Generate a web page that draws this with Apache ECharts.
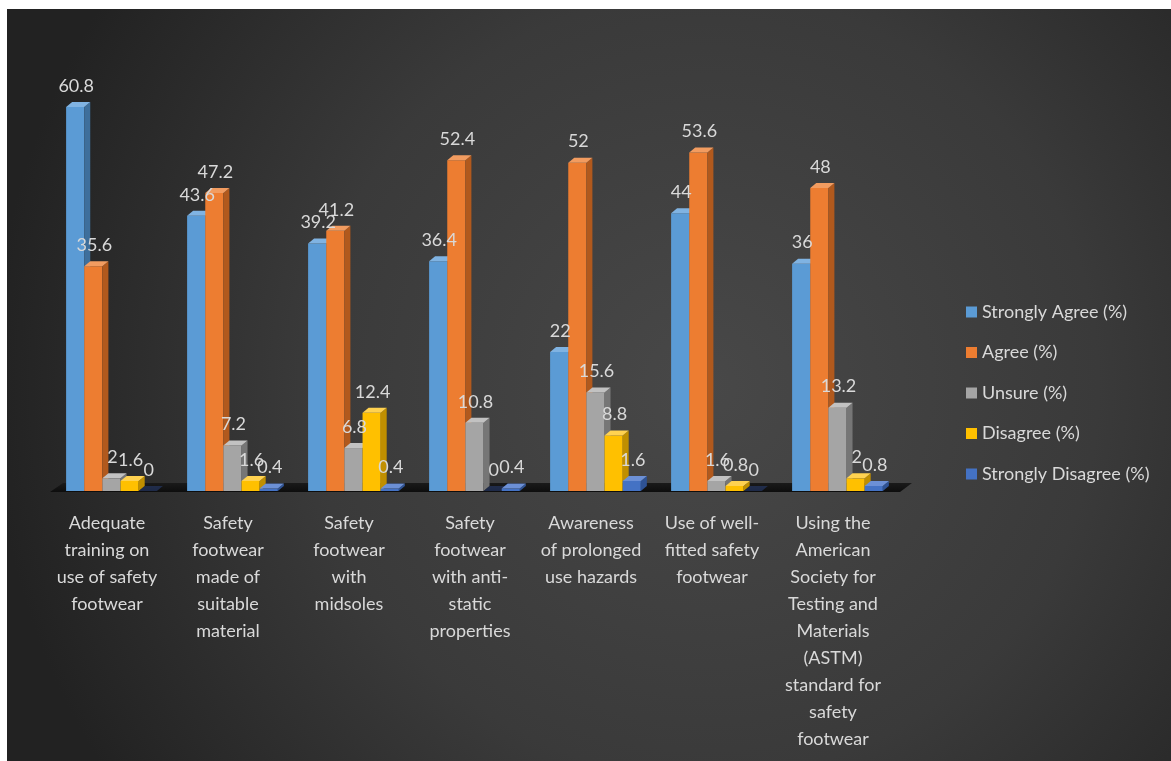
<!DOCTYPE html>
<html>
<head>
<meta charset="utf-8">
<script src="https://cdn.jsdelivr.net/npm/echarts@6/dist/echarts.min.js"></script>
<style>
html,body{margin:0;padding:0;background:#fff;}
#chart{width:1171px;height:761px;}
</style>
</head>
<body>
<div id="chart"></div>
<script>
// ---- data ----
const categories = [
  "Adequate\ntraining on\nuse of safety\nfootwear",
  "Safety\nfootwear\nmade of\nsuitable\nmaterial",
  "Safety\nfootwear\nwith\nmidsoles",
  "Safety\nfootwear\nwith anti-\nstatic\nproperties",
  "Awareness\nof prolonged\nuse hazards",
  "Use of well-\nfitted safety\nfootwear",
  "Using the\nAmerican\nSociety for\nTesting and\nMaterials\n(ASTM)\nstandard for\nsafety\nfootwear"
];
const seriesNames = ["Strongly Agree (%)", "Agree (%)", "Unsure (%)", "Disagree (%)", "Strongly Disagree (%)"];
const stronglyAgree = [60.8, 43.6, 39.2, 36.4, 22, 44, 36];
const agree = [35.6, 47.2, 41.2, 52.4, 52, 53.6, 48];
const unsure = [2, 7.2, 6.8, 10.8, 15.6, 1.6, 13.2];
const disagree = [1.6, 1.6, 12.4, 0, 8.8, 0.8, 2];
const stronglyDisagree = [0, 0.4, 0.4, 0.4, 1.6, 0, 0.8];
const seriesValues = [stronglyAgree, agree, unsure, disagree, stronglyDisagree];

// ---- styles ----
const palette = [
  {front: "#5B9BD5", side: "#3E6F9C", top: "#80B3E2"},
  {front: "#ED7D31", side: "#B1591D", top: "#F29C60"},
  {front: "#A5A5A5", side: "#767676", top: "#C2C2C2"},
  {front: "#FFC000", side: "#C08F00", top: "#FFD250"},
  {front: "#4472C4", side: "#2E5294", top: "#6C90D6"}
];
const FONT = "Lato, 'Open Sans', sans-serif";
const TXT = "#d9d9d9";

function makeRender(s) {
  return function (params, api) {
    const ci = api.value(0), v = api.value(1);
    const base = api.coord([ci, 0]);
    const top = api.coord([ci, v]);
    const band = api.size([1, 0])[0];
    const w = band * 0.15;
    const dx = 6, dy = 5;
    const x0 = base[0] + (s - 2.5) * w + band * 0.037;
    const c = palette[s];
    const children = [];
    const h = base[1] - top[1];
    if (h > 0.5) {
      children.push({
        type: 'rect',
        shape: {x: x0, y: top[1], width: w, height: h},
        style: {fill: c.front}
      });
      children.push({
        type: 'polygon',
        shape: {points: [[x0 + w, top[1]], [x0 + w + dx, top[1] - dy], [x0 + w + dx, base[1] - dy], [x0 + w, base[1]]]},
        style: {fill: c.side}
      });
    }
    children.push({
      type: 'polygon',
      shape: {points: [[x0, top[1]], [x0 + dx, top[1] - dy], [x0 + w + dx, top[1] - dy], [x0 + w, top[1]]]},
      style: {fill: v === 0 ? 'rgba(40,60,110,0.6)' : c.top}
    });
    children.push({
      type: 'text',
      z2: 100,
      style: {
        text: String(v), x: x0 + w / 2 + 1, y: top[1] - 21,
        fill: TXT, font: "18px " + FONT, align: 'center', verticalAlign: 'middle'
      }
    });
    return {type: 'group', children: children};
  };
}

const series = [{
  type: 'custom',
  name: '__floor',
  silent: true,
  data: [[0, 0]],
  renderItem: function (params, api) {
    const cs = params.coordSys;
    const b = api.coord([0, 0])[1];
    return {
      type: 'polygon',
      shape: {points: [
        [cs.x + 3.5, b + 1], [cs.x + 16.5, b - 8],
        [cs.x + cs.width + 18.5, b - 8], [cs.x + cs.width + 6.5, b + 1]
      ]},
      style: {fill: new echarts.graphic.LinearGradient(0, 0, 0, 1, [
        {offset: 0, color: '#1a1a1a'}, {offset: 1, color: '#0d0d0d'}
      ])}
    };
  }
}];
seriesNames.forEach(function (name, s) {
  series.push({
    type: 'custom',
    name: name,
    itemStyle: {color: palette[s].front},
    data: seriesValues[s].map(function (v, i) { return [i, v]; }),
    renderItem: makeRender(s)
  });
});

const chart = echarts.init(document.getElementById('chart'));
chart.setOption({
  animation: false,
  backgroundColor: '#ffffff',
  graphic: {
    elements: [{
      type: 'rect', z: -100, silent: true,
      shape: {x: 7, y: 9, width: 1164, height: 752},
      style: {fill: new echarts.graphic.RadialGradient(0.6, 0.5, 0.95, [
        {offset: 0, color: '#484848'}, {offset: 0.55, color: '#3a3a3a'}, {offset: 1, color: '#222222'}
      ])}
    }]
  },
  grid: {left: 46.5, width: 847, top: 49, bottom: 270},
  legend: {
    data: seriesNames,
    orient: 'vertical',
    left: 961, top: 297,
    itemWidth: 11, itemHeight: 11, itemGap: 20.5,
    icon: 'rect',
    textStyle: {color: TXT, fontSize: 18, fontFamily: FONT, lineHeight: 20}
  },
  xAxis: {
    type: 'category',
    data: categories,
    axisLine: {show: false},
    axisTick: {show: false},
    axisLabel: {interval: 0, color: TXT, fontSize: 18, fontFamily: FONT, lineHeight: 27, margin: 19}
  },
  yAxis: {type: 'value', min: 0, max: 70, show: false, splitLine: {show: false}},
  series: series
});
</script>
</body>
</html>
